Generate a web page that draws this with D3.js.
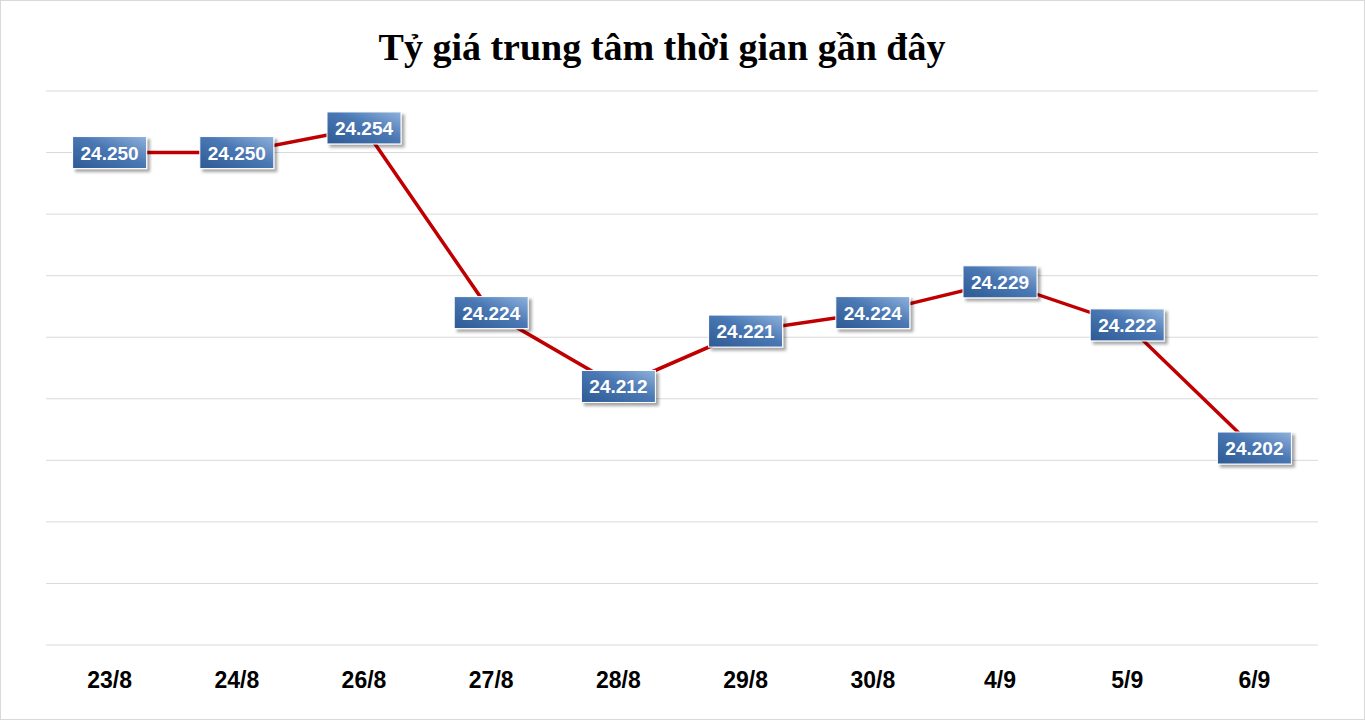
<!DOCTYPE html>
<html><head><meta charset="utf-8">
<script src="https://cdn.jsdelivr.net/npm/d3@7"></script>
<style>body{margin:0;background:#fff}</style></head>
<body><svg id="c" width="1365" height="720"></svg>
<script>
const categories=["23/8","24/8","26/8","27/8","28/8","29/8","30/8","4/9","5/9","6/9"];
const values=[24250,24250,24254,24224,24212,24221,24224,24229,24222,24202];
const yTicks=[24170,24180,24190,24200,24210,24220,24230,24240,24250,24260];
const svg=d3.select("#c");
const defs=svg.append("defs");
const g=defs.append("linearGradient").attr("id","bg").attr("x1","0").attr("y1","1").attr("x2","1").attr("y2","0");
g.append("stop").attr("offset","0").attr("stop-color","#2d5a94");
g.append("stop").attr("offset","0.55").attr("stop-color","#4a78b4");
g.append("stop").attr("offset","1").attr("stop-color","#8fb2dc");
const f=defs.append("filter").attr("id","sh").attr("x","-20%").attr("y","-20%").attr("width","150%").attr("height","160%");
f.append("feDropShadow").attr("dx",3).attr("dy",3).attr("stdDeviation",1.5).attr("flood-color","#000").attr("flood-opacity",0.35);
svg.append("rect").attr("x",0.5).attr("y",0.5).attr("width",1364).attr("height",719).attr("fill","#fff").attr("stroke","#d9d9d9");
svg.append("text").attr("x",662).attr("y",60).attr("text-anchor","middle").attr("font-family","Liberation Serif, DejaVu Serif, serif").attr("font-weight","bold").attr("font-size",38).text("Tỷ giá trung tâm thời gian gần đây");
const x=d3.scaleBand().domain(categories).range([46,1318]);
const y=d3.scaleLinear().domain([24170,24260]).range([645,91]);
svg.append("g").selectAll("line").data(yTicks).join("line").attr("x1",46).attr("x2",1318).attr("y1",d=>y(d)).attr("y2",d=>y(d)).attr("stroke","#d9d9d9");
svg.append("g").selectAll("text").data(categories).join("text").attr("x",d=>x(d)+x.bandwidth()/2).attr("y",688).attr("text-anchor","middle").attr("font-family","Liberation Sans, Arial, sans-serif").attr("font-weight","bold").attr("font-size",23).text(d=>d);
const cx=(d,i)=>x(categories[i])+x.bandwidth()/2;
svg.append("path").datum(values).attr("fill","none").attr("stroke","#c00000").attr("stroke-width",3.5)
 .attr("d",d3.line().x((d,i)=>cx(d,i)).y(d=>y(d)));
const fmt=v=>d3.format(",")(v).replace(",",".");
const lb=svg.append("g").selectAll("g").data(values).join("g").attr("transform",(d,i)=>`translate(${cx(d,i)},${y(d)})`);
lb.append("rect").attr("x",-37).attr("y",-16).attr("width",74).attr("height",32).attr("fill","url(#bg)").attr("stroke","#fff").attr("stroke-width",1).attr("filter","url(#sh)");
lb.append("text").attr("text-anchor","middle").attr("dy",7).attr("fill","#fff").attr("font-family","Liberation Sans, Arial, sans-serif").attr("font-weight","bold").attr("font-size",19).text(d=>fmt(d));
</script></body></html>
